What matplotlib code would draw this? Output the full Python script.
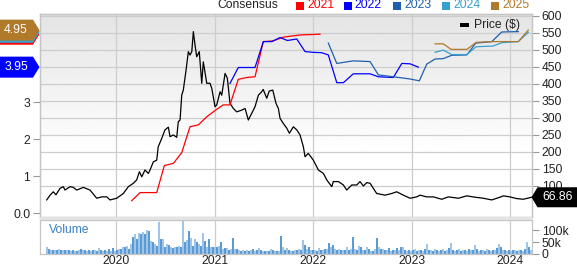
import numpy as np
import matplotlib
matplotlib.use('Agg')
import matplotlib.pyplot as plt
from matplotlib.patches import Polygon, Rectangle

plt.rcParams['font.family'] = ['Liberation Sans', 'DejaVu Sans']
plt.rcParams['font.size'] = 8.7

# price ($), x in decimal years
price_t = [2019.296, 2019.33, 2019.363, 2019.39, 2019.431, 2019.465, 2019.482, 2019.533,
           2019.566, 2019.601, 2019.668, 2019.736, 2019.804, 2019.855, 2019.906, 2019.939,
           2020.007, 2020.074, 2020.125, 2020.176, 2020.21, 2020.237, 2020.261, 2020.294,
           2020.328, 2020.345, 2020.379, 2020.413, 2020.428, 2020.464, 2020.497, 2020.531,
           2020.548, 2020.582, 2020.616, 2020.632, 2020.65, 2020.667, 2020.683, 2020.711,
           2020.734, 2020.751, 2020.769, 2020.785, 2020.802, 2020.819, 2020.845, 2020.87,
           2020.886, 2020.921, 2020.954, 2020.972, 2021.005, 2021.022, 2021.056, 2021.073,
           2021.107, 2021.13, 2021.157, 2021.191, 2021.225, 2021.276, 2021.31, 2021.343,
           2021.378, 2021.411, 2021.445, 2021.479, 2021.494, 2021.53, 2021.555, 2021.591,
           2021.624, 2021.648, 2021.665, 2021.698, 2021.733, 2021.76, 2021.8, 2021.835,
           2021.868, 2021.902, 2021.919, 2021.952, 2022.003, 2022.054, 2022.105, 2022.139,
           2022.19, 2022.206, 2022.257, 2022.308, 2022.342, 2022.393, 2022.444, 2022.477,
           2022.511, 2022.545, 2022.579, 2022.646, 2022.731, 2022.799, 2022.849, 2022.917,
           2022.985, 2023.053, 2023.086, 2023.154, 2023.221, 2023.307, 2023.374, 2023.476,
           2023.561, 2023.645, 2023.729, 2023.814, 2023.898, 2023.931, 2023.999, 2024.067,
           2024.134, 2024.22]
price = [59, 73, 83, 74, 93, 98, 88, 98, 96, 88, 96, 88, 64, 68, 68, 59,
         64, 78, 98, 108, 118, 142, 127, 147, 137, 147, 171, 176, 215, 240, 265, 273,
         245, 250, 243, 289, 294, 367, 382, 441, 495, 485, 495, 554, 514, 480, 495, 402,
         465, 402, 402, 387, 333, 338, 377, 367, 431, 417, 343, 328, 318, 323, 328, 294,
         314, 333, 367, 377, 384, 358, 379, 382, 343, 328, 299, 284, 270, 255, 274, 265,
         250, 215, 186, 196, 176, 147, 137, 118, 98, 113, 113, 103, 88, 103, 103, 113,
         100, 110, 108, 78, 73, 78, 83, 73, 64, 68, 73, 68, 68, 61, 68, 64,
         71, 67, 64, 59, 67, 71, 68, 63, 61, 66.86]

# consensus EPS estimates
c2021_t = [2020.159, 2020.244, 2020.413, 2020.49, 2020.582, 2020.667, 2020.751, 2020.836,
           2020.921, 2021.022, 2021.089, 2021.157, 2021.241, 2021.326, 2021.411, 2021.495,
           2021.597, 2021.698, 2021.868, 2022.071]
c2021 = [0.34, 0.56, 0.56, 1.29, 1.35, 1.64, 2.34, 2.39, 2.61, 2.81, 2.93, 2.93, 3.62, 3.67,
         3.69, 4.64, 4.66, 4.76, 4.82, 4.84]
c2022_t = [2021.157, 2021.241, 2021.411, 2021.495, 2021.581, 2021.665, 2021.739, 2021.835,
           2021.919, 2022.003, 2022.088, 2022.155, 2022.241, 2022.308, 2022.409, 2022.579,
           2022.663, 2022.815, 2022.901, 2022.985, 2023.069]
c2022 = [3.51, 3.94, 3.94, 4.64, 4.64, 4.75, 4.67, 4.71, 4.37, 4.35, 4.34, 4.28, 3.53, 3.53,
         3.77, 3.77, 3.69, 3.67, 4.05, 4.04, 3.95]
c2023_t = [2022.155, 2022.241, 2022.409, 2022.579, 2022.663, 2022.815, 2022.985, 2023.079,
           2023.154, 2023.239, 2023.322, 2023.407, 2023.561, 2023.652, 2023.815, 2023.916,
           2024.084]
c2023 = [4.60, 4.05, 4.12, 4.10, 3.74, 3.69, 3.63, 3.58, 4.03, 4.17, 4.18, 4.27, 4.28, 4.60,
         4.64, 4.90, 4.91]
c2024_t = [2023.239, 2023.322, 2023.407, 2023.561, 2023.655, 2023.827, 2023.916, 2024.084,
           2024.185]
c2024 = [4.35, 4.41, 4.29, 4.29, 4.50, 4.52, 4.61, 4.64, 4.89]
c2025_t = [2023.239, 2023.322, 2023.401, 2023.561, 2023.657, 2023.825, 2024.084, 2024.185]
c2025 = [4.58, 4.58, 4.43, 4.43, 4.62, 4.64, 4.64, 4.95]

# weekly volume (thousands)
volume = [28, 20, 17, 16, 18, 15, 21, 17, 18, 15, 19, 16, 14, 15, 13, 14, 16, 22, 17, 15,
          14, 16, 13, 15, 18, 14, 27, 16, 14, 15, 13, 21, 14, 24, 13, 18, 20,
          21, 28, 28, 35, 20, 42, 70, 83, 62, 90, 83, 94, 83, 100, 97, 56, 49, 42, 35, 137,
          62, 62, 28,
          42, 39, 28, 24, 28, 30, 35, 28, 138, 49, 58, 97, 69, 35, 62, 49, 42, 35, 87, 56,
          28, 62, 28, 28, 28, 31, 35, 51, 21, 25, 25, 17, 21, 67, 21, 21, 17, 14, 18, 14,
          17, 14, 17, 21, 14, 17, 24, 18, 14, 14, 11, 14, 21, 18, 14, 11, 14, 76,
          28, 18, 25, 17, 14, 14, 17, 17, 21, 17, 58, 39, 21, 28, 17, 18, 18, 14, 25, 18,
          17, 21, 21, 46, 31, 38, 21, 17, 21, 17, 18, 17, 31, 18, 21, 74, 21, 18, 32, 28,
          17, 17, 28, 21, 14, 14, 21, 67, 28, 21, 21, 17, 17, 24, 14, 17, 17, 25, 17, 31, 28,
          17, 14, 18, 14, 17, 21, 14, 17, 18, 14, 21, 44, 18, 17, 14, 21, 17, 14, 18, 21,
          14, 17, 25, 48, 18, 14, 17, 21, 14, 18, 17, 14, 21, 17, 18, 37, 21, 14, 17, 18,
          14, 21, 17, 14, 18, 17, 25, 42, 28, 18, 17, 14, 17, 14, 18, 17, 14, 17, 18, 14,
          21, 49, 28, 18]
vol_start, vol_end = 2019.299, 2024.213

years = [2020, 2021, 2022, 2023, 2024]
price_ticks = list(range(100, 601, 50))
eps_ticks = [0, 1, 2, 3]
eps_labels = ['0.0', '1', '2', '3']

series = [('2021', c2021_t, c2021, '#ff0000'),
          ('2022', c2022_t, c2022, '#0000ff'),
          ('2023', c2023_t, c2023, '#1f5fae'),
          ('2024', c2024_t, c2024, '#36a0d0'),
          ('2025', c2025_t, c2025, '#b07a2a')]

W, H = 577, 265
fig = plt.figure(figsize=(W / 100, H / 100), dpi=100)


def box(x0, y0, x1, y1):
    return [x0 / W, 1 - y1 / H, (x1 - x0) / W, (y1 - y0) / H]


def fpt(x, y):
    return (x / W, 1 - y / H)


grid_c = '#cdcdcd'
spine_c = '#c4c4c4'
txt_c = '#222222'

ax = fig.add_axes(box(40, 14, 532, 216.5))
axv = fig.add_axes(box(40, 219.5, 532, 254))
ax_eps = ax.twinx()

# background gradient
t = np.linspace(0, 1, 200)
shade = 1 - 0.105 * np.clip((t - 0.3) / 0.7, 0, 1)
ax.imshow(shade[:, None], extent=[0, 1, 0, 1], transform=ax.transAxes, origin='lower',
          cmap='gray', vmin=0, vmax=1, aspect='auto', zorder=0)

ax.plot(price_t, price, color='black', lw=0.9, zorder=3)
for name, xt, yv, col in series:
    ax_eps.plot(xt, yv, color=col, lw=0.9)

xlim = (2019.228, 2024.223)
ax.set_xlim(*xlim)
ax_eps.set_xlim(*xlim)
axv.set_xlim(*xlim)
ax.set_ylim(10.3, 605.7)
ax_eps.set_ylim(-0.086, 5.386)

ax.yaxis.tick_right()
ax.set_yticks(price_ticks)
ax.set_xticks(years)
ax.grid(True, color=grid_c, lw=0.9, zorder=1)
ax.set_axisbelow(True)
ax.tick_params(axis='y', length=5, width=0.8, color='#999999', pad=2, labelcolor=txt_c,
               labelsize=8.7)
ax.tick_params(axis='x', length=0, labelbottom=False)

ax_eps.yaxis.tick_left()
ax_eps.set_yticks(eps_ticks)
ax_eps.set_yticklabels(eps_labels)
ax_eps.tick_params(axis='y', length=5, width=0.8, color='#999999', pad=2, labelcolor=txt_c,
                   labelsize=8.7)

for a in (ax, ax_eps, axv):
    for s in a.spines.values():
        s.set_color(spine_c)
        s.set_linewidth(0.9)

# volume
vol_t = np.linspace(vol_start, vol_end, len(volume))
vol_cols = ['#5b9bd5' if i % 2 else '#9fc5e8' for i in range(len(volume))]
axv.bar(vol_t, np.array(volume) * 1000, width=0.012, color=vol_cols, zorder=2)
axv.set_ylim(0, 146000)
axv.yaxis.tick_right()
axv.set_yticks([0, 50000, 100000])
axv.set_yticklabels(['0', '50k', '100k'])
axv.set_xticks(years)
axv.set_xticklabels([str(y) for y in years])
axv.grid(True, axis='x', color=grid_c, lw=0.9, zorder=0)
axv.tick_params(axis='x', length=0, pad=0.5, labelcolor=txt_c, labelsize=8.7)
axv.tick_params(axis='y', length=5, width=0.8, color='#999999', pad=2, labelcolor=txt_c,
                labelsize=8.7)
axv.text(0.018, 0.7, 'Volume', transform=axv.transAxes, color='#3a80c4', fontsize=8.7,
         va='center')

# separator band
fig.add_artist(Rectangle(fpt(40, 219.5), 492 / W, 3 / H, transform=fig.transFigure,
                         color='#e3e3e3', lw=0))

# legend
fig.text(*fpt(217, 5.5), 'Consensus', color=txt_c, va='center', ha='left')
leg_x = [296, 343.5, 393, 442, 491]
for (name, xt, yv, col), lx in zip(series, leg_x):
    fig.add_artist(Rectangle(fpt(lx, 9.5), 8 / W, 8 / H, transform=fig.transFigure,
                             color=col, lw=0))
    fig.text(*fpt(lx + 11, 5.5), name, color=col, va='center', ha='left')
fig.add_artist(Rectangle(fpt(460, 27), 9 / W, 4.5 / H, transform=fig.transFigure,
                         color='black', lw=0))
fig.text(*fpt(474.5, 25), 'Price ($)', color=txt_c, va='center', ha='left')

# value badges (2021, 2023, 2024 sit underneath the 2025 badge)


def badge_y(a, v):
    return H - a.transData.transform((xlim[0], v))[1]


for name, xt, yv, col in [series[0], series[2], series[3], series[1], series[4]]:
    yc = badge_y(ax_eps, yv[-1])
    pts = [(0, yc - 10.5), (33, yc - 10.5), (39.5, yc), (33, yc + 10.5), (0, yc + 10.5)]
    fig.add_artist(Polygon([fpt(*p) for p in pts], closed=True, transform=fig.transFigure,
                           facecolor=col, edgecolor='none'))
    if name in ('2022', '2025'):
        fig.text(*fpt(16, yc), f'{yv[-1]:.2f}', color='white', ha='center', va='center')

yc = badge_y(ax, price[-1])
pts = [(531.5, yc), (537.5, yc - 10), (577, yc - 10), (577, yc + 10), (537.5, yc + 10)]
fig.add_artist(Polygon([fpt(*p) for p in pts], closed=True, transform=fig.transFigure,
                       facecolor='black', edgecolor='none'))
fig.text(*fpt(558, yc), f'{price[-1]:.2f}', color='white', ha='center', va='center')

fig.savefig('out.png', dpi=100)
